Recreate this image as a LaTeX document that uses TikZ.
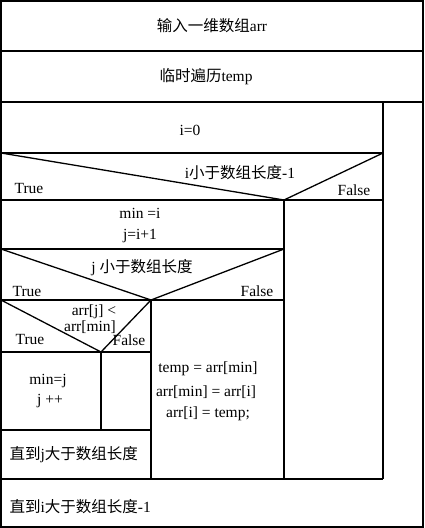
\documentclass[tikz,border=0pt]{standalone}
\usepackage{fontspec}
\setmainfont{Liberation Serif}
\newfontfamily\cjk[Scale=1.0]{Noto Sans CJK SC}
\begin{document}
\begin{tikzpicture}[x=1pt,y=-1pt,line width=1.3pt,
  lbl/.style={inner sep=0pt,font=\fontsize{15.5}{17}\selectfont},
  lblL/.style={lbl,anchor=west}]
\useasboundingbox (0,0) rectangle (424,528);
% outer frame
\draw (1,1) rectangle (423,527);
\draw (1,51) -- (423,51);
\draw (1,102) -- (423,102);
\draw (383,102) -- (383,479);
\draw (1,153) -- (383,153);
\draw (1,153) -- (284,200) -- (383,153);
\draw (1,200) -- (383,200);
\draw (284,200) -- (284,479);
\draw (1,249) -- (284,249);
\draw (1,249) -- (151,300) -- (284,249);
\draw (1,300) -- (284,300);
\draw (151,300) -- (151,479);
\draw (1,300) -- (101,352) -- (151,300);
\draw (1,352) -- (151,352);
\draw (101,352) -- (101,430);
\draw (1,430) -- (151,430);
\draw (1,479) -- (383,479);
% texts
\node[lbl] (t1) at (212,26) {{\cjk 输入一维数组}arr};
\node[lbl] (t2) at (206,77) {{\cjk 临时遍历}temp};
\node[lbl] (t3) at (190,130) {i=0};
\node[lbl] (c1) at (240,173) {i{\cjk 小于数组长度}-1};
\node[lbl] (c1t) at (29,188) {True};
\node[lbl] (c1f) at (354,190) {False};
\node[lbl] (m1) at (140,213) {min =i};
\node[lbl] (m2) at (140,236) {j=i+1};
\node[lbl] (c2) at (142,268) {j {\cjk 小于数组长度}};
\node[lbl] (c2t) at (27,291) {True};
\node[lbl] (c2f) at (257,291) {False};
\node[lbl] (c3a) at (94,312) {arr[j] <};
\node[lbl] (c3b) at (90,327) {arr[min]};
\node[lbl] (c3t) at (30,339) {True};
\node[lbl] (c3f) at (129,340) {False};
\node[lbl] (s1) at (48,381) {min=j};
\node[lbl] (s2) at (50,401) {j ++};
\node[lbl] (w1) at (208,369) {temp = arr[min]};
\node[lbl] (w2) at (206,392) {arr[min] = arr[i]};
\node[lbl] (w3) at (208,414) {arr[i] = temp;};
\node[lblL] (u1) at (9,455) {{\cjk 直到}j{\cjk 大于数组长度}};
\node[lblL] (u2) at (9,507) {{\cjk 直到}i{\cjk 大于数组长度}-1};
\end{tikzpicture}
\end{document}
